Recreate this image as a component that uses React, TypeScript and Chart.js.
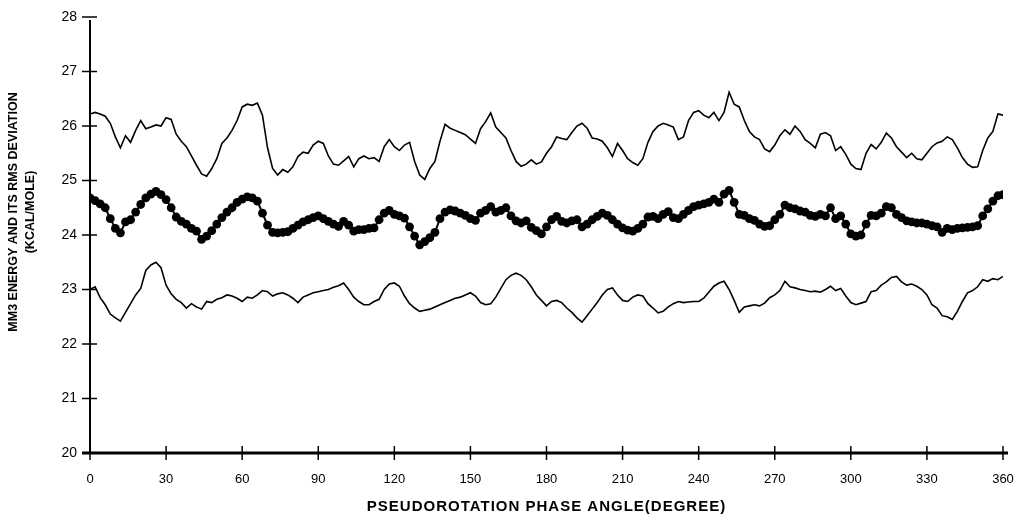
import React, { useEffect, useRef } from "react";
import { Chart, registerables } from "chart.js";

Chart.register(...registerables);

// Pseudorotation phase angle step (degrees) between samples
const ANGLE_STEP = 2;

// Upper curve (energy + RMS deviation), kcal/mole, 0..360 deg step 2
const UPPER = [
  26.22, 26.25, 26.22, 26.18, 26.05, 25.8, 25.6, 25.82, 25.7, 25.92,
  26.1, 25.95, 25.98, 26.02, 26.0, 26.15, 26.12, 25.85, 25.72, 25.62,
  25.45, 25.28, 25.12, 25.08, 25.22, 25.4, 25.68, 25.78, 25.92, 26.1,
  26.35, 26.4, 26.38, 26.42, 26.2, 25.6, 25.22, 25.1, 25.2, 25.15,
  25.25, 25.44, 25.52, 25.5, 25.65, 25.72, 25.68, 25.45, 25.3, 25.28,
  25.36, 25.44, 25.25, 25.4, 25.45, 25.4, 25.42, 25.35, 25.62, 25.75,
  25.62, 25.55, 25.65, 25.7, 25.35, 25.1, 25.02, 25.22, 25.35, 25.72,
  26.03, 25.96, 25.92, 25.88, 25.84, 25.76, 25.68, 25.95, 26.08, 26.24,
  25.98, 25.88, 25.78, 25.55, 25.35, 25.26, 25.3, 25.38, 25.3, 25.34,
  25.5, 25.62, 25.8, 25.77, 25.75, 25.88, 26.0, 26.05, 25.96, 25.78,
  25.76, 25.72, 25.6, 25.44, 25.68, 25.55, 25.4, 25.33, 25.28, 25.4,
  25.7, 25.9, 26.0, 26.05, 26.02, 25.98, 25.75, 25.8, 26.1, 26.25,
  26.28, 26.2, 26.15, 26.25, 26.1, 26.25, 26.62, 26.4, 26.35, 26.1,
  25.9, 25.8, 25.75, 25.58, 25.53, 25.65, 25.82, 25.93, 25.85, 26.0,
  25.9, 25.75, 25.68, 25.6, 25.85, 25.88, 25.82, 25.55, 25.62, 25.48,
  25.3, 25.22, 25.2, 25.5, 25.66, 25.58, 25.7, 25.87, 25.78, 25.62,
  25.52, 25.42, 25.5, 25.4, 25.38, 25.5, 25.62, 25.69, 25.72, 25.8,
  25.75, 25.6, 25.42, 25.3, 25.24, 25.25, 25.55, 25.78, 25.9, 26.22,
  26.2,
];

// Middle curve (mean MM3 energy), drawn with filled dots
const MIDDLE = [
  24.68, 24.63, 24.57, 24.5, 24.3, 24.12, 24.04, 24.24, 24.28, 24.42,
  24.56, 24.68, 24.75, 24.8, 24.74, 24.65, 24.5, 24.33, 24.25, 24.2,
  24.12, 24.07, 23.92, 23.98, 24.08, 24.2, 24.32, 24.42, 24.5, 24.6,
  24.66, 24.7, 24.68, 24.62, 24.4, 24.18, 24.05, 24.04, 24.05, 24.06,
  24.12, 24.18, 24.24, 24.28, 24.32, 24.35, 24.3, 24.25, 24.2, 24.16,
  24.25, 24.18, 24.07, 24.1, 24.1, 24.12, 24.13, 24.28, 24.4, 24.45,
  24.38, 24.35, 24.31, 24.15, 23.98, 23.82, 23.88, 23.95, 24.05, 24.3,
  24.42, 24.46, 24.44, 24.4, 24.36, 24.3, 24.27, 24.4, 24.45, 24.52,
  24.42, 24.45, 24.5, 24.35, 24.26, 24.22, 24.26, 24.14, 24.08, 24.02,
  24.15, 24.28, 24.34, 24.25, 24.22, 24.26, 24.28, 24.15, 24.2, 24.28,
  24.34, 24.4, 24.36, 24.28, 24.2, 24.13, 24.09, 24.07, 24.12, 24.2,
  24.33, 24.34, 24.3, 24.38, 24.43, 24.32, 24.3, 24.38, 24.45, 24.52,
  24.55, 24.57, 24.6, 24.66, 24.6, 24.75, 24.82, 24.6, 24.38, 24.36,
  24.3, 24.27, 24.2, 24.16, 24.17, 24.28, 24.38, 24.55, 24.5, 24.48,
  24.44, 24.42, 24.36, 24.34, 24.38, 24.35, 24.5, 24.3, 24.35, 24.2,
  24.02, 23.98, 24.0, 24.2, 24.36, 24.35, 24.4, 24.52, 24.5, 24.38,
  24.32, 24.26, 24.24, 24.22, 24.22, 24.2, 24.17, 24.15, 24.05, 24.12,
  24.1, 24.12, 24.13, 24.14, 24.15, 24.17, 24.35, 24.48, 24.62, 24.72,
  24.74,
];

// Lower curve (energy - RMS deviation)
const LOWER = [
  23.0, 23.05, 22.85, 22.72, 22.55, 22.48, 22.42, 22.58, 22.74, 22.9,
  23.02, 23.35, 23.45, 23.5, 23.4, 23.08, 22.92, 22.82, 22.76, 22.66,
  22.74, 22.68, 22.64, 22.78, 22.76, 22.82, 22.85, 22.9, 22.88, 22.84,
  22.78, 22.86, 22.84, 22.9, 22.98, 22.96, 22.88, 22.92, 22.94, 22.9,
  22.84, 22.76, 22.86, 22.9, 22.94, 22.96, 22.98, 23.0, 23.04, 23.07,
  23.12, 23.0, 22.86, 22.78, 22.72, 22.72, 22.78, 22.82, 23.0, 23.1,
  23.12, 23.06, 22.88, 22.74, 22.66, 22.6, 22.62, 22.64, 22.68, 22.72,
  22.76, 22.8, 22.84, 22.86, 22.9, 22.94, 22.88, 22.76, 22.72, 22.74,
  22.86, 23.02, 23.18, 23.26, 23.3, 23.26, 23.18, 23.05, 22.9, 22.8,
  22.7, 22.78, 22.8, 22.76, 22.66, 22.58, 22.48, 22.4, 22.52, 22.64,
  22.76, 22.9, 23.0, 23.03, 22.9, 22.8, 22.78, 22.86, 22.9, 22.88,
  22.74, 22.66, 22.57, 22.6, 22.68, 22.74, 22.78, 22.76, 22.77, 22.78,
  22.78, 22.84, 22.95, 23.06, 23.12, 23.15, 23.0, 22.8, 22.58, 22.68,
  22.7, 22.72, 22.7, 22.75, 22.85, 22.9, 22.98, 23.15, 23.05, 23.03,
  23.0, 22.98, 22.96, 22.97, 22.95, 23.0, 23.06, 22.98, 23.02, 22.88,
  22.76, 22.72, 22.75, 22.78, 22.96, 22.98, 23.08, 23.14, 23.22, 23.24,
  23.14, 23.08, 23.1, 23.06, 23.0, 22.9, 22.72, 22.66, 22.52, 22.5,
  22.45, 22.6, 22.78, 22.94, 22.98, 23.05, 23.18, 23.15, 23.2, 23.18,
  23.24,
];

const X_TICKS = [0, 30, 60, 90, 120, 150, 180, 210, 240, 270, 300, 330, 360];
const Y_TICKS = [20, 21, 22, 23, 24, 25, 26, 27, 28];
const X_TITLE = "PSEUDOROTATION PHASE ANGLE(DEGREE)";
const Y_TITLE = ["MM3 ENERGY AND ITS RMS DEVIATION", "(KCAL/MOLE)"];

const FONT = "'Liberation Sans', Arial, sans-serif";

const toPoints = (vals: number[]) =>
  vals.map((v, i) => ({ x: i * ANGLE_STEP, y: v }));

const axesPlugin = {
  id: "crossAxes",
  afterDatasetsDraw(chart: any) {
    const { ctx, scales } = chart;
    const xs = scales.x;
    const ys = scales.y;
    const x0 = xs.getPixelForValue(X_TICKS[0]);
    const x1 = xs.getPixelForValue(X_TICKS[X_TICKS.length - 1]);
    const y0 = ys.getPixelForValue(Y_TICKS[0]);
    const yTop = ys.getPixelForValue(Y_TICKS[Y_TICKS.length - 1]);
    ctx.save();
    ctx.strokeStyle = "#000";
    ctx.lineCap = "butt";
    ctx.lineWidth = 2;
    ctx.beginPath();
    ctx.moveTo(x0, yTop + 3);
    ctx.lineTo(x0, y0);
    ctx.stroke();
    ctx.lineWidth = 3;
    ctx.beginPath();
    ctx.moveTo(x0 - 8, y0);
    ctx.lineTo(x1 + 5, y0);
    ctx.stroke();
    ctx.lineWidth = 1.5;
    Y_TICKS.forEach((v) => {
      const py = ys.getPixelForValue(v);
      ctx.beginPath();
      ctx.moveTo(x0 - 8, py);
      ctx.lineTo(x0 + 7, py);
      ctx.stroke();
    });
    X_TICKS.forEach((v) => {
      const px = xs.getPixelForValue(v);
      ctx.beginPath();
      ctx.moveTo(px, y0 - 7);
      ctx.lineTo(px, y0 + 7);
      ctx.stroke();
    });
    ctx.fillStyle = "#000";
    // x axis title
    ctx.font = `bold 15px ${FONT}`;
    ctx.textAlign = "center";
    ctx.textBaseline = "middle";
    try {
      (ctx as any).letterSpacing = "1px";
    } catch (e) {}
    ctx.fillText(X_TITLE, (x0 + x1) / 2, 507);
    try {
      (ctx as any).letterSpacing = "0px";
    } catch (e) {}
    // y axis title (two lines, rotated)
    ctx.font = `bold 12.5px ${FONT}`;
    ctx.translate(0, 212);
    ctx.rotate(-Math.PI / 2);
    ctx.fillText(Y_TITLE[0], 0, 14);
    ctx.fillText(Y_TITLE[1], 0, 31);
    ctx.restore();
  },
};

export default function App() {
  const ref = useRef<HTMLCanvasElement | null>(null);
  useEffect(() => {
    if (!ref.current) return;
    const chart = new Chart(ref.current, {
      type: "line",
      data: {
        datasets: [
          {
            label: "upper",
            data: toPoints(UPPER),
            borderColor: "#000",
            borderWidth: 1.6,
            pointRadius: 0,
            tension: 0,
          },
          {
            label: "mean",
            data: toPoints(MIDDLE),
            borderColor: "#000",
            borderWidth: 2,
            pointRadius: 4.4,
            pointBackgroundColor: "#000",
            pointBorderWidth: 0,
            tension: 0,
          },
          {
            label: "lower",
            data: toPoints(LOWER),
            borderColor: "#000",
            borderWidth: 1.6,
            pointRadius: 0,
            tension: 0,
          },
        ],
      },
      options: {
        animation: false,
        responsive: false,
        maintainAspectRatio: false,
        layout: { padding: { left: 0, right: 14, top: 17, bottom: 0 } },
        plugins: {
          legend: { display: false },
          tooltip: { enabled: false },
          title: { display: false },
        },
        scales: {
          x: {
            type: "linear",
            min: 0,
            max: 360,
            afterBuildTicks: (s: any) => {
              s.ticks = X_TICKS.map((v) => ({ value: v }));
            },
            afterFit: (s: any) => {
              s.height = 64;
              s.paddingLeft = 0;
              s.paddingRight = 0;
            },
            grid: { display: false, drawTicks: false },
            border: { display: false },
            ticks: {
              padding: 19,
              color: "#000",
              font: { family: FONT, size: 13 },
              maxRotation: 0,
              autoSkip: false,
            },
          },
          y: {
            type: "linear",
            min: 20,
            max: 28,
            afterBuildTicks: (s: any) => {
              s.ticks = Y_TICKS.map((v) => ({ value: v }));
            },
            afterFit: (s: any) => {
              s.width = 90;
              s.paddingTop = 0;
              s.paddingBottom = 0;
            },
            grid: { display: false, drawTicks: false },
            border: { display: false },
            ticks: {
              padding: 13,
              color: "#000",
              font: { family: FONT, size: 14 },
              autoSkip: false,
            },
          },
        },
      },
      plugins: [axesPlugin],
    });
    return () => chart.destroy();
  }, []);
  return (
    <div
      style={{
        position: "fixed",
        left: 0,
        top: 0,
        width: 1017,
        height: 517,
        background: "#fff",
      }}
    >
      <canvas ref={ref} width={1017} height={517} />
    </div>
  );
}
